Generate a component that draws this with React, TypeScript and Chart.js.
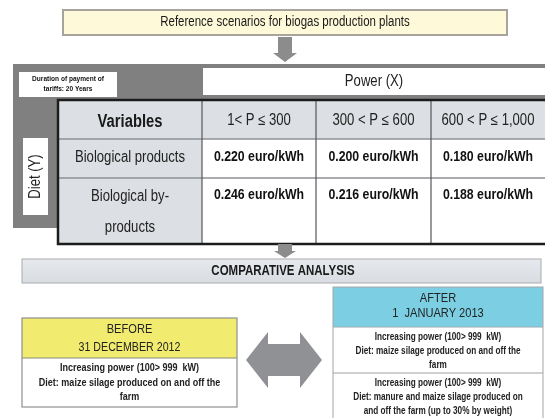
import React, { useEffect, useRef } from "react";
import { Chart, registerables } from "chart.js";

Chart.register(...registerables);

// ---------- data ----------
const titleText = "Reference scenarios for biogas production plants";
const durationLines = ["Duration of payment of", "tariffs: 20 Years"];
const powerLabel = "Power (X)";
const dietLabel = "Diet (Y)";
const columnHeaders = ["Variables", "1< P \u2264 300", "300 < P \u2264 600", "600 < P \u2264 1,000"];
const rowLabels = [["Biological products"], ["Biological by-", "products"]];
const tariffsProducts = [0.22, 0.2, 0.18];
const tariffsByProducts = [0.246, 0.216, 0.188];
const tariffUnit = "euro/kWh";
const comparativeLabel = "COMPARATIVE ANALYSIS";
const beforeHeader = ["BEFORE", "31 DECEMBER 2012"];
const beforeBody = [
  "Increasing power (100> 999  kW)",
  "Diet: maize silage produced on and off the",
  "farm",
];
const afterHeader = ["AFTER", "1  JANUARY 2013"];
const afterBody1 = [
  "Increasing power (100> 999  kW)",
  "Diet: maize silage produced on and off the",
  "farm",
];
const afterBody2 = [
  "Increasing power (100> 999  kW)",
  "Diet: manure and maize silage produced on",
  "and off the farm (up to 30% by weight)",
];

// ---------- drawing helpers ----------
let family = "'Liberation Sans', Arial, sans-serif";
let squeeze = 0.82;

function detectNarrow(ctx: CanvasRenderingContext2D) {
  ctx.save();
  ctx.font = "20px monospace";
  const a = ctx.measureText("abcdefghijklmnop").width;
  ctx.font = "20px 'Liberation Sans Narrow', monospace";
  const b = ctx.measureText("abcdefghijklmnop").width;
  ctx.restore();
  if (Math.abs(a - b) > 0.5) {
    family = "'Liberation Sans Narrow', 'Liberation Sans', sans-serif";
    squeeze = 1;
  }
}

function txt(
  ctx: CanvasRenderingContext2D,
  s: string,
  x: number,
  y: number,
  size: number,
  weight: string,
  color: string,
  align: CanvasTextAlign = "center"
) {
  ctx.save();
  ctx.font = `${weight} ${size}px ${family}`;
  ctx.fillStyle = color;
  ctx.textBaseline = "middle";
  ctx.textAlign = align;
  ctx.translate(x, y);
  ctx.scale(squeeze, 1);
  ctx.fillText(s, 0, 0);
  ctx.restore();
}

function rect(
  ctx: CanvasRenderingContext2D,
  x0: number,
  y0: number,
  x1: number,
  y1: number,
  fill: string | null,
  stroke: string | null,
  lw = 1
) {
  if (fill) {
    ctx.fillStyle = fill;
    ctx.fillRect(x0, y0, x1 - x0, y1 - y0);
  }
  if (stroke) {
    ctx.strokeStyle = stroke;
    ctx.lineWidth = lw;
    ctx.strokeRect(x0, y0, x1 - x0, y1 - y0);
  }
}

function line(ctx: CanvasRenderingContext2D, x0: number, y0: number, x1: number, y1: number, c: string, lw: number) {
  ctx.strokeStyle = c;
  ctx.lineWidth = lw;
  ctx.beginPath();
  ctx.moveTo(x0, y0);
  ctx.lineTo(x1, y1);
  ctx.stroke();
}

function poly(ctx: CanvasRenderingContext2D, pts: number[][], fill: string) {
  ctx.fillStyle = fill;
  ctx.beginPath();
  pts.forEach(([px, py], i) => (i ? ctx.lineTo(px, py) : ctx.moveTo(px, py)));
  ctx.closePath();
  ctx.fill();
}

const diagramPlugin = {
  id: "diagram",
  afterDraw(chart: any) {
    const ctx: CanvasRenderingContext2D = chart.ctx;
    const sx = chart.scales.x;
    const sy = chart.scales.y;
    const X = (v: number) => sx.getPixelForValue(v);
    const Y = (v: number) => sy.getPixelForValue(v);
    detectNarrow(ctx);
    ctx.save();

    // title box
    rect(ctx, X(63), Y(10), X(507), Y(35), "#fdf9d9", "#a8a39c", 2);
    txt(ctx, titleText, X(285), Y(22.5), 14, "normal", "#1a1a1a");

    // down arrow
    const downArrow = (cx: number, top: number, neck: number, tip: number, sw: number, hw: number) =>
      poly(
        ctx,
        [
          [X(cx - sw / 2), Y(top)],
          [X(cx + sw / 2), Y(top)],
          [X(cx + sw / 2), Y(neck)],
          [X(cx + hw / 2), Y(neck)],
          [X(cx), Y(tip)],
          [X(cx - hw / 2), Y(neck)],
          [X(cx - sw / 2), Y(neck)],
        ],
        "#8c8c8c"
      );
    downArrow(285, 37, 53, 62, 14, 24);

    // gray frame
    rect(ctx, X(13), Y(64), X(545), Y(228), "#808080", null);
    // duration box
    rect(ctx, X(19), Y(72), X(117), Y(97), "#ffffff", null);
    txt(ctx, durationLines[0], X(68), Y(79), 8, "bold", "#111");
    txt(ctx, durationLines[1], X(68), Y(89), 8, "bold", "#111");
    // power box
    rect(ctx, X(203), Y(68), X(545), Y(95), "#ffffff", null);
    txt(ctx, powerLabel, X(374), Y(82), 16, "normal", "#222");
    // diet box
    rect(ctx, X(23), Y(138), X(48), Y(215), "#ffffff", null);
    ctx.save();
    ctx.translate(X(35.5), Y(176.5));
    ctx.rotate(-Math.PI / 2);
    txt(ctx, dietLabel, 0, 0, 16, "normal", "#222");
    ctx.restore();

    // table
    const colEdges = [58, 202, 316, 431, 545];
    const rowEdges = [100, 139, 178, 244];
    const headBg = "#dcdfe3";
    rect(ctx, X(58), Y(100), X(545), Y(244), "#ffffff", null);
    rect(ctx, X(58), Y(100), X(545), Y(139), headBg, null);
    rect(ctx, X(58), Y(139), X(202), Y(244), headBg, null);
    for (let i = 1; i < rowEdges.length - 1; i++)
      line(ctx, X(58), Y(rowEdges[i]), X(545), Y(rowEdges[i]), "#8e9094", 1.5);
    for (let i = 1; i < colEdges.length - 1; i++)
      line(ctx, X(colEdges[i]), Y(100), X(colEdges[i]), Y(244), "#55575a", 1.2);
    ctx.strokeStyle = "#1c1c1c";
    ctx.lineWidth = 2.5;
    ctx.strokeRect(X(58), Y(100), X(547) - X(58), Y(244) - Y(100));

    columnHeaders.forEach((h, i) => {
      const cx = (colEdges[i] + colEdges[i + 1]) / 2;
      if (i === 0) txt(ctx, h, X(cx), Y(122), 18, "bold", "#1a1a1a");
      else txt(ctx, h, X(cx), Y(121), 16, "normal", "#222");
    });
    txt(ctx, rowLabels[0][0], X(130), Y(158), 16, "normal", "#222");
    txt(ctx, rowLabels[1][0], X(130), Y(197), 16, "normal", "#222");
    txt(ctx, rowLabels[1][1], X(130), Y(228), 16, "normal", "#222");
    const rowsVals = [tariffsProducts, tariffsByProducts];
    const rowY = [157, 195];
    rowsVals.forEach((vals, r) =>
      vals.forEach((v, c) => {
        const cx = (colEdges[c + 1] + colEdges[c + 2]) / 2;
        txt(ctx, `${v.toFixed(3)} ${tariffUnit}`, X(cx), Y(rowY[r]), 15, "bold", "#111");
      })
    );

    downArrow(285, 244, 251, 258, 14, 22);

    // comparative analysis bar
    const g = ctx.createLinearGradient(0, Y(259), 0, Y(283));
    g.addColorStop(0, "#e6e9ed");
    g.addColorStop(1, "#d9dde2");
    ctx.fillStyle = g;
    ctx.fillRect(X(22), Y(259), X(541) - X(22), Y(283) - Y(259));
    rect(ctx, X(22), Y(259), X(541), Y(283), null, "#a9abad", 1);
    txt(ctx, comparativeLabel, X(283), Y(271), 14, "bold", "#1a1a1a");

    // BEFORE box
    rect(ctx, X(22), Y(318), X(237), Y(407), "#ffffff", null);
    rect(ctx, X(22), Y(318), X(237), Y(358), "#f1ec70", null);
    line(ctx, X(22), Y(358), X(237), Y(358), "#8a8a7a", 1);
    rect(ctx, X(22), Y(318), X(237), Y(407), null, "#8f8f8f", 1.2);
    txt(ctx, beforeHeader[0], X(129.5), Y(329), 13.5, "normal", "#222");
    txt(ctx, beforeHeader[1], X(129.5), Y(347), 13, "normal", "#222");
    txt(ctx, beforeBody[0], X(129.5), Y(368), 11, "bold", "#222");
    txt(ctx, beforeBody[1], X(129.5), Y(383), 11, "bold", "#222");
    txt(ctx, beforeBody[2], X(129.5), Y(396.5), 11, "bold", "#222");

    // double arrow
    poly(
      ctx,
      [
        [X(246), Y(360)],
        [X(268), Y(332)],
        [X(268), Y(344)],
        [X(300), Y(344)],
        [X(300), Y(332)],
        [X(322), Y(360)],
        [X(300), Y(388)],
        [X(300), Y(376)],
        [X(268), Y(376)],
        [X(268), Y(388)],
      ],
      "#8f9194"
    );

    // AFTER box
    rect(ctx, X(333), Y(287), X(543), Y(420), "#ffffff", null);
    rect(ctx, X(333), Y(287), X(543), Y(327), "#7ccfe3", null);
    line(ctx, X(333), Y(327), X(543), Y(327), "#9aaab0", 1);
    line(ctx, X(333), Y(373), X(543), Y(373), "#a0a0a0", 1);
    rect(ctx, X(333), Y(287), X(543), Y(420), null, "#a6a6a6", 1);
    txt(ctx, afterHeader[0], X(438), Y(298), 13.5, "normal", "#222");
    txt(ctx, afterHeader[1], X(438), Y(313.5), 13.5, "normal", "#222");
    txt(ctx, afterBody1[0], X(438), Y(337), 10, "bold", "#222");
    txt(ctx, afterBody1[1], X(438), Y(351.5), 10, "bold", "#222");
    txt(ctx, afterBody1[2], X(438), Y(365), 10, "bold", "#222");
    txt(ctx, afterBody2[0], X(438), Y(383), 10, "bold", "#222");
    txt(ctx, afterBody2[1], X(438), Y(397.5), 10, "bold", "#222");
    txt(ctx, afterBody2[2], X(438), Y(411.5), 10, "bold", "#222");

    ctx.restore();
  },
};

export default function App() {
  const ref = useRef<HTMLCanvasElement | null>(null);
  useEffect(() => {
    document.body.style.margin = "0";
    const canvas = ref.current;
    if (!canvas) return;
    const chart = new Chart(canvas, {
      type: "scatter",
      data: { datasets: [{ data: [], pointRadius: 0 }] },
      options: {
        animation: false,
        responsive: false,
        devicePixelRatio: 1,
        layout: { padding: 0 },
        plugins: { legend: { display: false }, tooltip: { enabled: false } },
        scales: {
          x: { type: "linear", min: 0, max: 545, display: false },
          y: { type: "linear", min: 0, max: 418, reverse: true, display: false },
        },
      },
      plugins: [diagramPlugin],
    });
    return () => chart.destroy();
  }, []);
  return (
    <div style={{ position: "absolute", left: 0, top: 0, width: 545, height: 418, background: "#ffffff" }}>
      <canvas ref={ref} width={545} height={418} />
    </div>
  );
}
